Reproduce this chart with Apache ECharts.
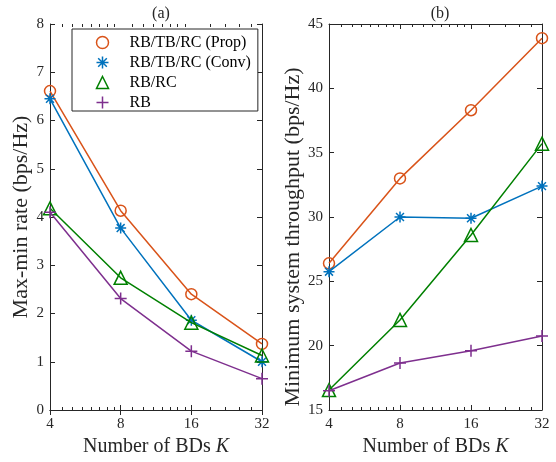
<!DOCTYPE html>
<html>
<head>
<meta charset="utf-8">
<script src="https://cdn.jsdelivr.net/npm/echarts@6/dist/echarts.min.js"></script>
<style>
  html, body { margin: 0; padding: 0; background: #fff; }
  #chart { width: 556px; height: 462px; }
</style>
</head>
<body>
<div id="chart"></div>
<script>
// Number of backscatter devices (log2 x axis)
const bdCounts = [4, 8, 16, 32];
const seriesNames = ['RB/TB/RC (Prop)', 'RB/TB/RC (Conv)', 'RB/RC', 'RB'];

// (a) max-min rate, bps/Hz
const rateProp = [6.61, 4.13, 2.40, 1.37];
const rateConv = [6.45, 3.77, 1.86, 1.00];
const rateRbRc = [4.18, 2.74, 1.81, 1.13];
const rateRb   = [4.10, 2.31, 1.22, 0.65];

// (b) minimum system throughput, bps/Hz
const thrProp = [26.4, 33.0, 38.3, 43.9];
const thrConv = [25.75, 30.0, 29.9, 32.4];
const thrRbRc = [16.55, 22.0, 28.6, 35.7];
const thrRb   = [16.5, 18.65, 19.6, 20.75];

// axis tick values
const xMajorTicks = [4, 8, 16, 32];
const xMinorTicks = [4.5, 5, 5.5, 6, 6.5, 7, 7.5, 9, 10, 11, 12, 13, 14, 15, 19.2, 22.4, 25.6, 28.8];
const rateTicks = [0, 1, 2, 3, 4, 5, 6, 7, 8];
const thrTicks = [15, 20, 25, 30, 35, 40, 45];

const FONT = '"Liberation Serif", "Times New Roman", serif';
const INK = '#262626';
const colors = ['#D95319', '#0072BD', '#008000', '#7E2F8E'];
const PLUS = 'path://M0,-1L0,1M-1,0L1,0';
const STAR = 'path://M0,-1L0,1M-1,0L1,0M-0.72,-0.72L0.72,0.72M-0.72,0.72L0.72,-0.72';
const symbols = ['circle', STAR, 'triangle', PLUS];
const symbolSizes = [11, 11, 13, 12];

const grids = [
  { left: 50, top: 24, width: 212, height: 386 },
  { left: 329, top: 24, width: 213, height: 386 }
];

function xAxesFor(gridIndex) {
  const base = {
    type: 'log', logBase: 2, min: 4, max: 32, gridIndex,
    splitLine: { show: false }, minorTick: { show: false }
  };
  return [
    Object.assign({}, base, {
      position: 'bottom',
      axisLine: { show: true, lineStyle: { color: INK, width: 1 } },
      axisTick: { show: true, inside: true, length: 5, customValues: xMajorTicks, lineStyle: { color: INK } },
      axisLabel: { show: true, customValues: xMajorTicks, margin: 7, color: INK, fontFamily: FONT, fontSize: 15 },
      name: 'Number of BDs {i|K}',
      nameLocation: 'middle', nameGap: 19,
      nameTextStyle: { color: INK, fontFamily: FONT, fontSize: 20,
        rich: { i: { fontStyle: 'italic', fontFamily: FONT, fontSize: 20, color: INK } } }
    }),
    Object.assign({}, base, {
      position: 'top',
      axisLine: { show: true, lineStyle: { color: INK, width: 1 } },
      axisTick: { show: true, inside: true, length: 5, customValues: xMajorTicks, lineStyle: { color: INK } },
      axisLabel: { show: false }
    }),
    Object.assign({}, base, {
      position: 'bottom',
      axisLine: { show: false },
      axisTick: { show: true, inside: true, length: 3, customValues: xMinorTicks, lineStyle: { color: INK } },
      axisLabel: { show: false }
    }),
    Object.assign({}, base, {
      position: 'top',
      axisLine: { show: false },
      axisTick: { show: true, inside: true, length: 3, customValues: xMinorTicks, lineStyle: { color: INK } },
      axisLabel: { show: false }
    })
  ];
}

function yAxesFor(gridIndex, ticks, step, name, namePad) {
  const base = {
    type: 'value', gridIndex, min: ticks[0], max: ticks[ticks.length - 1], interval: step,
    splitLine: { show: false }
  };
  return [
    Object.assign({}, base, {
      position: 'left',
      axisLine: { show: true, lineStyle: { color: INK, width: 1 } },
      axisTick: { show: true, inside: true, length: 5, lineStyle: { color: INK } },
      axisLabel: { show: true, margin: 6, color: INK, fontFamily: FONT, fontSize: 15 },
      name, nameLocation: 'middle', nameGap: 14,
      nameTextStyle: { color: INK, fontFamily: FONT, fontSize: 22, padding: namePad }
    }),
    Object.assign({}, base, {
      position: 'right',
      axisLine: { show: true, lineStyle: { color: INK, width: 1 } },
      axisTick: { show: true, inside: true, length: 5, lineStyle: { color: INK } },
      axisLabel: { show: false }
    })
  ];
}

function makeSeries(values, k, xAxisIndex, yAxisIndex) {
  return {
    type: 'line',
    name: seriesNames[k],
    xAxisIndex, yAxisIndex,
    data: bdCounts.map((x, i) => [x, values[i]]),
    symbol: symbols[k],
    symbolSize: symbolSizes[k],
    showAllSymbol: true,
    clip: false,
    lineStyle: { color: colors[k], width: 1.5 },
    itemStyle: { color: 'none', borderColor: colors[k], borderWidth: 1.5 },
    emphasis: { disabled: true },
    z: 3 + k
  };
}

const rateSets = [rateProp, rateConv, rateRbRc, rateRb];
const thrSets = [thrProp, thrConv, thrRbRc, thrRb];

const option = {
  backgroundColor: '#fff',
  animation: false,
  title: [
    { text: '(a)', left: 156, top: 1, textAlign: 'center',
      textStyle: { color: INK, fontFamily: FONT, fontSize: 16, fontWeight: 'normal' } },
    { text: '(b)', left: 435, top: 1, textAlign: 'center',
      textStyle: { color: INK, fontFamily: FONT, fontSize: 16, fontWeight: 'normal' } }
  ],
  grid: grids,
  xAxis: [].concat(xAxesFor(0), xAxesFor(1)),
  yAxis: [].concat(
    yAxesFor(0, rateTicks, 1, 'Max-min rate (bps/Hz)', [0, 0, 0, 0]),
    yAxesFor(1, thrTicks, 5, 'Minimum system throughput (bps/Hz)', [0, 40, 0, 0])
  ),
  legend: {
    orient: 'vertical',
    left: 72, top: 29,
    padding: [5, 7, 0, 22],
    itemWidth: 12, itemHeight: 12, itemGap: 3,
    backgroundColor: '#fff',
    borderColor: INK, borderWidth: 1,
    selectedMode: false,
    textStyle: { color: '#000', fontFamily: FONT, fontSize: 16, lineHeight: 12, padding: [0, 0, 0, 16] },
    data: seriesNames.map((n, k) => ({
      name: n,
      icon: symbols[k],
      itemStyle: { color: 'none', borderColor: colors[k], borderWidth: 1.5 }
    }))
  },
  series: [].concat(
    rateSets.map((v, k) => makeSeries(v, k, 0, 0)),
    thrSets.map((v, k) => makeSeries(v, k, 4, 2))
  )
};

const chart = echarts.init(document.getElementById('chart'), null, { renderer: 'canvas' });
chart.setOption(option);
</script>
</body>
</html>
